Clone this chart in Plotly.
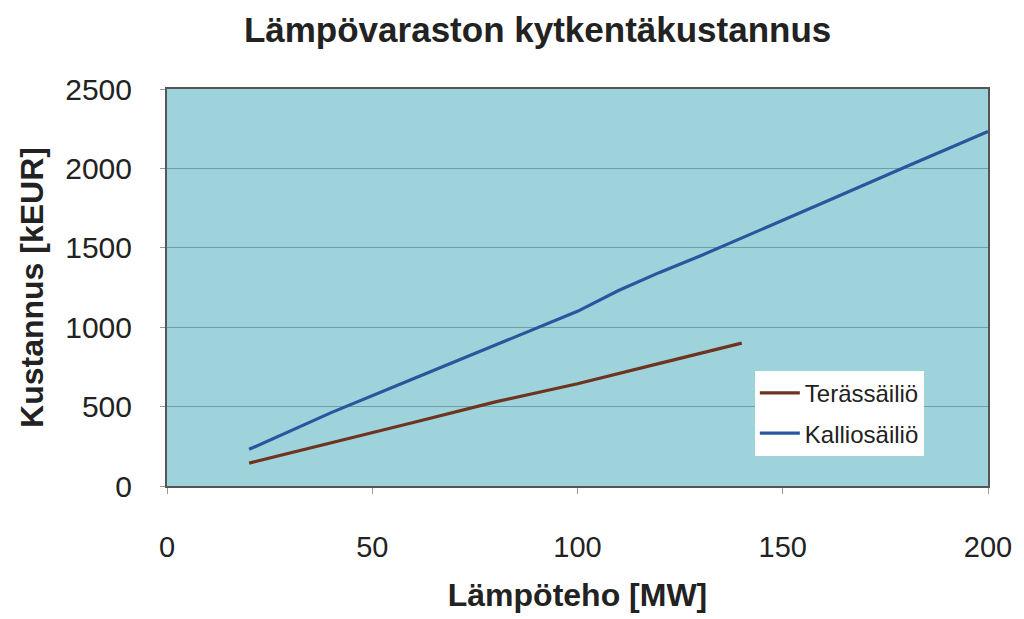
import plotly.graph_objects as go

x_kallio = [20, 40, 60, 80, 100, 110, 120, 130, 140, 160, 180, 200]
y_kallio = [231, 462, 675, 887, 1100, 1231, 1345, 1450, 1560, 1785, 2010, 2232]
x_teras = [20, 40, 60, 80, 100, 120, 140]
y_teras = [144, 270, 400, 530, 644, 772, 900]

series_names = ["Terässäiliö", "Kalliosäiliö"]
title_text = "Lämpövaraston kytkentäkustannus"
x_title = "Lämpöteho [MW]"
y_title = "Kustannus [kEUR]"

font_family = "Liberation Sans, Arial, sans-serif"

fig = go.Figure()
fig.add_trace(go.Scatter(x=x_teras, y=y_teras, mode="lines", name=series_names[0],
                         legendgroup="a",
                         line=dict(color="#6e3420", width=3.2)))
fig.add_trace(go.Scatter(x=x_kallio, y=y_kallio, mode="lines", name=series_names[1],
                         legendgroup="b",
                         line=dict(color="#27589e", width=3.2)))

fig.update_layout(
    width=1024, height=619,
    margin=dict(l=167, r=36, t=89, b=130),
    paper_bgcolor="white",
    plot_bgcolor="#9fd3dc",
    font=dict(family=font_family, color="#222222", size=28),
    title=dict(text="<b>" + title_text + "</b>", x=0.525, xanchor="center",
               y=0.952, yanchor="middle", font=dict(size=35, color="#222222")),
    showlegend=True,
    legend=dict(x=0.716, y=0.29, xanchor="left", yanchor="top",
                bgcolor="white", borderwidth=0, traceorder="grouped",
                font=dict(size=24, color="#222222"), tracegroupgap=6,
                itemwidth=40),
    xaxis=dict(range=[0, 200], tickvals=[0, 50, 100, 150, 200],
               showgrid=False, zeroline=False, showline=True, linecolor="#555555",
               linewidth=2, mirror=True, ticks="outside", ticklen=6, tickcolor="#999999",
               ticklabelstandoff=28, tickfont=dict(size=29),
               title=dict(text="<b>" + x_title + "</b>", font=dict(size=32), standoff=22)),
    yaxis=dict(range=[0, 2500], tickvals=[0, 500, 1000, 1500, 2000, 2500],
               showgrid=True, gridcolor="#6f9ea6", gridwidth=1, zeroline=False,
               showline=True, linecolor="#555555", linewidth=2, mirror=True,
               ticks="outside", ticklen=5, tickcolor="#999999",
               ticklabelstandoff=22, tickfont=dict(size=30),
               title=dict(text="<b>" + y_title + "</b>", font=dict(size=32), standoff=12)),
)

fig.write_html("out.html")
